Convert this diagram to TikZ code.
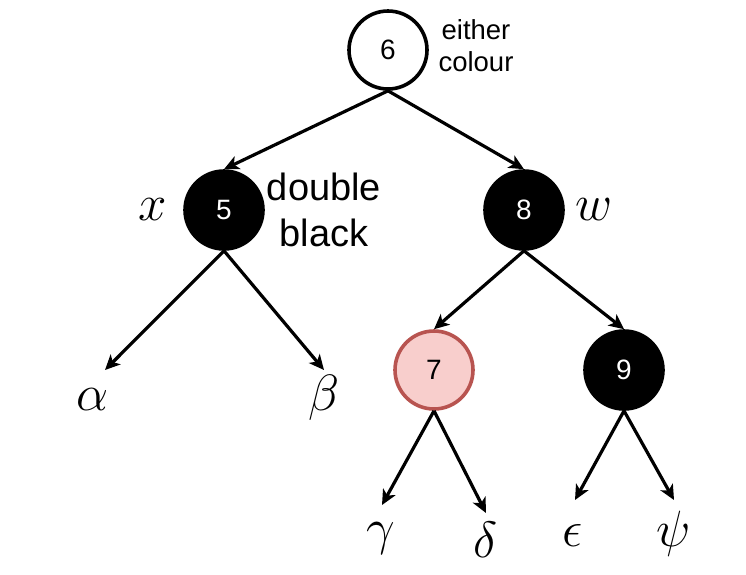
\documentclass[tikz,border=0pt]{standalone}
\usepackage{fix-cm}
\usepackage{fontspec}
\usepackage{xcolor}
\usetikzlibrary{arrows.meta}
\newfontfamily\lsans{Liberation Sans}
\definecolor{pinkfill}{HTML}{F8CECC}
\definecolor{pinkline}{HTML}{B85450}

\begin{document}
\begin{tikzpicture}[
  x=1pt, y=-1pt,
  tnode/.style={draw, circle, line width=3.6pt, minimum size=78pt, inner sep=0pt,
    font=\lsans\fontsize{28}{32}\selectfont},
  wnode/.style={tnode, fill=white},
  bnode/.style={tnode, fill=black, text=white},
  rnode/.style={tnode, draw=pinkline, fill=pinkfill},
  greek/.style={font=\fontsize{51}{56}\selectfont, inner sep=0pt},
  note/.style={align=center, inner sep=0pt},
  edge/.style={line width=3.2pt, -{Stealth[length=15pt, width=14pt, inset=4pt]}}]
  \useasboundingbox (0,0) rectangle (746,574);
  % tree nodes
  \node[wnode] (n6) at (388,50) {6};
  \node[bnode] (n5) at (224,210) {5};
  \node[bnode] (n8) at (524,210) {8};
  \node[rnode] (n7) at (434,370) {7};
  \node[bnode] (n9) at (624,370) {9};
  % labels
  \node[note, font=\lsans\fontsize{27.5}{32}\selectfont] (lbl6) at (476,46) {either\\colour};
  \node[note, font=\lsans\fontsize{38}{46}\selectfont] (lbl5) at (324,210) {double\\black};
  \node[greek] (xlbl) at (153,210) {$x$};
  \node[greek] (wlbl) at (594,210) {$w$};
  % subtrees
  \node[greek] (alpha) at (93,400) {$\alpha$};
  \node[greek] (beta) at (324,398) {$\beta$};
  \node[greek] (gamma) at (381,538) {$\gamma$};
  \node[greek] (delta) at (486,540) {$\delta$};
  \node[greek] (eps) at (573,536) {$\epsilon$};
  \node[greek] (psi) at (674,534) {$\psi$};
  \coordinate (ta) at (105,370);
  \coordinate (tb) at (324,370);
  \coordinate (tg) at (382,505);
  \coordinate (td) at (486,513);
  \coordinate (te) at (575,500);
  \coordinate (tp) at (674,500);
  % edges
  \draw[edge] (n6.south) -- (n5.north);
  \draw[edge] (n6.south) -- (n8.north);
  \draw[edge] (n5.south) -- (ta);
  \draw[edge] (n5.south) -- (tb);
  \draw[edge] (n8.south) -- (n7.north);
  \draw[edge] (n8.south) -- (n9.north);
  \draw[edge] (n7.south) -- (tg);
  \draw[edge] (n7.south) -- (td);
  \draw[edge] (n9.south) -- (te);
  \draw[edge] (n9.south) -- (tp);
\end{tikzpicture}
\end{document}
